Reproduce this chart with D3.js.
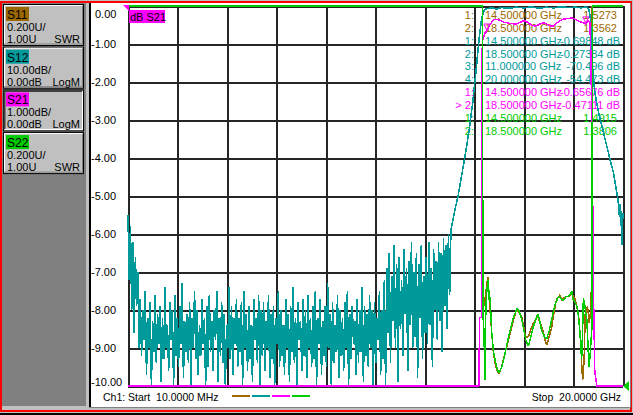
<!DOCTYPE html>
<html>
<head>
<meta charset="utf-8">
<script src="https://cdn.jsdelivr.net/npm/d3@7"></script>
<style>
	body { margin: 0; background: #fff; }
	svg { display: block; }
	text { font-family: "Liberation Sans", Arial, sans-serif; font-size: 11px; white-space: pre; }
</style>
</head>
<body>
<svg id="vna" width="633" height="415"></svg>
<script>
// ---- channel buttons on the left ----
var channelNames = ['S11', 'S12', 'S21', 'S22'];
var channelScales = ['0.200U/', '10.00dB/', '1.000dB/', '0.200U/'];
var channelRefs = ['1.00U', '0.00dB', '0.00dB', '1.00U'];
var channelFormats = ['SWR', 'LogM', 'LogM', 'SWR'];
var activeChannel = 'S21';

// ---- axes ----
var yTickValues = [0, -1, -2, -3, -4, -5, -6, -7, -8, -9, -10];
var yTickLabels = ['0.00', '-1.00', '-2.00', '-3.00', '-4.00', '-5.00', '-6.00', '-7.00', '-8.00', '-9.00', '-10.00'];
var sweepStartGHz = 0.01;
var sweepStopGHz = 20;
var startLabel = 'Ch1: Start  10.0000 MHz';
var stopLabel = 'Stop  20.0000 GHz';

// ---- marker table (top right) ----
var markerChannels = ['S11', 'S11', 'S12', 'S12', 'S12', 'S12', 'S21', 'S21', 'S22', 'S22'];
var markerIds = ['1:', '2:', '1:', '2:', '3:', '4:', '1:', '> 2:', '1:', '2:'];
var markerFreqs = ['14.500000 GHz', '18.500000 GHz', '14.500000 GHz', '18.500000 GHz', '11.000000 GHz',
	'20.000000 GHz', '14.500000 GHz', '18.500000 GHz', '14.500000 GHz', '18.500000 GHz'];
var markerValues = ['1.5273', '1.3562', '-0.69848 dB', '-0.27384 dB', '-70.496 dB', '-54.473 dB',
	'-0.65676 dB', '-0.47111 dB', '1.4915', '1.3806'];
var s21MarkerFreqs = [14.5, 18.5];
var s21MarkerDb = [-0.65676, -0.47111];

// ---- S12 (dB, 10 dB/div): noise floor read as sweep points from 10 MHz to 13 GHz ----
var s12NoiseStopGHz = 13.0;
var s12Noise = [
	-55, -72, -58, -80, -62, -86, -66, -79, -70, -90,
	-77, -92, -80, -88, -75, -97, -82, -90, -78, -100, -83, -91, -76, -94, -81, -89, -79, -99, -82, -93,
	-74, -90, -84, -96, -78, -88, -80, -100, -76, -92, -82, -95, -79, -89, -73, -98, -83, -91, -81, -94,
	-78, -100, -82, -90, -75, -93, -80, -97, -84, -92, -77, -89, -82, -100, -79, -95, -76, -91, -83, -96,
	-80, -88, -75, -99, -82, -92, -78, -94, -81, -100, -84, -90, -74, -93, -79, -97, -82, -89, -77, -95,
	-82, -91, -78, -100, -75, -90, -81, -96, -79, -93, -84, -99, -77, -88, -82, -94, -76, -100, -80, -92,
	-78, -96, -83, -90, -76, -98, -81, -93, -79, -100, -82, -89, -75, -95, -80, -92, -84, -97, -77, -90,
	-81, -99, -79, -91, -74, -94, -82, -100, -78, -88, -83, -96, -77, -92, -80, -98, -76, -90, -82, -95,
	-79, -93, -75, -100, -82, -89, -77, -97, -83, -92, -79, -95, -73, -90, -81, -100, -78, -94, -84, -91,
	-76, -98, -80, -92, -82, -96, -78, -90, -75, -100, -81, -93, -79, -89, -83, -97, -77, -94, -80, -91,
	-74, -99, -79, -92, -81, -95, -76, -90, -80, -100, -78, -94, -82, -88, -75, -97, -80, -93, -72, -100,
	-69, -86, -65, -94, -71, -83, -63, -90, -68, -99, -66, -85, -72, -92, -64, -81, -69, -96, -67, -84,
	-62, -90, -70, -87, -65, -98, -68, -82, -63, -93, -71, -86, -66, -89, -62, -84, -69, -95, -64, -80,
	-67, -88, -62, -83, -65, -91, -61, -79, -63, -85, -60, -76
];
// S12 filter skirts and passband [GHz, dB]
var s12Band = [
	[13.05, -59], [13.2, -54], [13.34, -50], [13.5, -44], [13.66, -38], [13.8, -32], [13.94, -25],
	[14.08, -16], [14.2, -8], [14.3, -3], [14.4, -1.0], [14.5, -0.7], [14.7, -0.5], [14.9, -0.8],
	[15.1, -0.4], [15.4, -0.6], [15.7, -0.3], [16.0, -0.5], [16.3, -0.2], [16.6, -0.6], [16.9, -0.3],
	[17.2, -0.5], [17.5, -0.2], [17.8, -0.4], [18.1, -0.3], [18.3, -0.5], [18.5, -0.27], [18.62, -0.8],
	[18.68, -3], [18.72, -9], [18.78, -17], [18.85, -22], [18.95, -26], [19.05, -29], [19.2, -33],
	[19.35, -37], [19.5, -41], [19.62, -44], [19.72, -48], [19.8, -51], [19.85, -55], [19.88, -52],
	[19.9, -58], [19.93, -54], [19.96, -63], [19.98, -57], [20.0, -54.5]
];

// ---- S21 (dB, 1 dB/div) [GHz, dB] ----
var s21Trace = [
	[0.01, -10.5], [14.19, -10.5], [14.2, -8.2], [14.28, -8.2], [14.29, -1.5], [14.33, -0.9],
	[14.43, -0.71], [14.5, -0.66], [14.6, -0.52], [14.7, -0.42], [14.8, -0.36], [14.9, -0.35],
	[15.0, -0.37], [15.1, -0.4], [15.2, -0.43], [15.3, -0.44], [15.45, -0.46], [15.6, -0.47],
	[15.71, -0.47], [15.85, -0.43], [15.95, -0.4], [16.04, -0.39], [16.15, -0.43], [16.3, -0.5],
	[16.45, -0.53], [16.6, -0.49], [16.77, -0.44], [16.9, -0.47], [17.05, -0.52], [17.18, -0.53],
	[17.3, -0.46], [17.45, -0.39], [17.58, -0.35], [17.75, -0.33], [17.9, -0.32], [17.98, -0.32],
	[18.1, -0.36], [18.25, -0.41], [18.39, -0.44], [18.5, -0.47], [18.59, -0.39], [18.66, -0.42],
	[18.7, -1.2], [18.76, -4], [18.82, -8], [18.86, -9.6], [18.94, -10.5], [20.0, -10.5]
];

// ---- S11 (SWR, 0.2 U/div) [GHz, SWR] ----
var s11Trace = [
	[0.01, 4], [14.32, 4], [14.33, 1.35], [14.36, 1.5], [14.4, 1.42], [14.45, 1.48], [14.5, 1.53],
	[14.54, 1.575], [14.58, 1.5], [14.63, 1.4], [14.7, 1.28], [14.77, 1.17], [14.85, 1.11], [14.93, 1.075],
	[15.0, 1.067], [15.1, 1.1], [15.23, 1.17], [15.37, 1.24], [15.51, 1.31], [15.6, 1.36], [15.7, 1.4],
	[15.8, 1.39], [15.91, 1.365], [15.98, 1.32], [16.04, 1.27], [16.12, 1.255], [16.18, 1.26], [16.28, 1.3],
	[16.38, 1.33], [16.47, 1.35], [16.55, 1.365], [16.67, 1.33], [16.79, 1.28], [16.86, 1.24], [16.92, 1.216],
	[17.0, 1.25], [17.12, 1.31], [17.22, 1.39], [17.32, 1.46], [17.4, 1.47], [17.46, 1.48], [17.53, 1.45],
	[17.59, 1.46], [17.68, 1.47], [17.79, 1.47], [17.87, 1.48], [17.93, 1.49], [18.0, 1.47], [18.06, 1.46],
	[18.13, 1.42], [18.2, 1.38], [18.25, 1.3], [18.29, 1.24], [18.33, 1.12], [18.37, 1.03], [18.4, 1.08],
	[18.43, 1.14], [18.46, 1.3], [18.48, 1.4], [18.5, 1.36], [18.56, 1.42], [18.6, 1.38], [18.64, 1.33],
	[18.68, 1.38], [18.72, 1.5], [18.73, 1.56], [18.75, 4], [20.0, 4]
];

// ---- S22 (SWR, 0.2 U/div) [GHz, SWR] ----
var s22Trace = [
	[0.01, 4], [14.33, 4], [14.34, 1.38], [14.38, 1.3], [14.43, 1.03], [14.46, 1.4], [14.5, 1.5],
	[14.56, 1.56], [14.6, 1.45], [14.63, 1.47], [14.7, 1.28], [14.77, 1.18], [14.83, 1.14], [14.9, 1.1],
	[14.97, 1.07], [15.03, 1.08], [15.1, 1.1], [15.2, 1.15], [15.3, 1.21], [15.4, 1.27], [15.51, 1.33],
	[15.6, 1.37], [15.73, 1.41], [15.82, 1.39], [15.91, 1.35], [16.0, 1.29], [16.08, 1.24], [16.18, 1.21],
	[16.28, 1.26], [16.38, 1.31], [16.48, 1.35], [16.56, 1.38], [16.64, 1.34], [16.72, 1.29], [16.82, 1.26],
	[16.92, 1.25], [17.02, 1.29], [17.12, 1.35], [17.2, 1.4], [17.26, 1.43], [17.39, 1.47], [17.5, 1.46],
	[17.59, 1.45], [17.7, 1.47], [17.79, 1.47], [17.86, 1.48], [17.93, 1.5], [17.97, 1.46], [18.02, 1.45],
	[18.1, 1.43], [18.16, 1.41], [18.22, 1.34], [18.26, 1.28], [18.3, 1.2], [18.33, 1.14], [18.37, 1.3],
	[18.4, 1.46], [18.45, 1.43], [18.5, 1.38], [18.54, 1.35], [18.59, 1.2], [18.63, 1.1], [18.67, 1.16],
	[18.7, 1.22], [18.74, 1.3], [18.77, 4], [20.0, 4]
];

var traceColors = { S11: '#9c6800', S12: '#009a9a', S21: '#ff00ff', S22: '#00cc00' };

var svg = d3.select('#vna');

// window chrome
svg.append('rect').attr('width', 633).attr('height', 415).attr('fill', '#c0c0c0');
svg.append('rect').attr('x', 1).attr('y', 2).attr('width', 630).attr('height', 409)
	.attr('fill', 'none').attr('stroke', '#ff0000').attr('stroke-width', 2);
svg.append('rect').attr('x', 0).attr('y', 413).attr('width', 633).attr('height', 2).attr('fill', '#000');
svg.append('rect').attr('x', 2).attr('y', 3).attr('width', 84).attr('height', 403).attr('fill', '#808080');
svg.append('rect').attr('x', 89).attr('y', 3).attr('width', 541).attr('height', 404).attr('fill', '#fff');
svg.append('rect').attr('x', 89).attr('y', 3).attr('width', 2).attr('height', 404).attr('fill', '#000');
svg.append('line').attr('x1', 89).attr('x2', 630).attr('y1', 407.5).attr('y2', 407.5).attr('stroke', '#808080');
svg.append('line').attr('x1', 630.5).attr('x2', 630.5).attr('y1', 3).attr('y2', 408).attr('stroke', '#808080');

// channel buttons
var buttons = svg.selectAll('g.button').data(channelNames).enter().append('g')
	.attr('class', 'button')
	.attr('transform', function(d, i) { return 'translate(3,' + (4 + i * 42.7) + ')'; });

buttons.append('rect').attr('width', 80).attr('height', 41).attr('fill', '#c0c0c0')
	.attr('stroke', '#000').attr('stroke-width', 1).attr('x', 0.5).attr('y', 0.5);
buttons.append('path')
	.attr('d', 'M1.5,40 V1.5 H80')
	.attr('fill', 'none').attr('stroke-width', function(d) { return d == activeChannel ? 2 : 1; })
	.attr('stroke', function(d) { return d == activeChannel ? '#404040' : '#fff'; });
buttons.append('path')
	.attr('d', 'M1.5,40 H79.5 V1.5')
	.attr('fill', 'none')
	.attr('stroke', function(d) { return d == activeChannel ? '#fff' : '#808080'; });
buttons.append('rect').attr('x', 3).attr('y', 3).attr('width', 23).attr('height', 14)
	.attr('fill', function(d) { return traceColors[d]; });
buttons.append('text').attr('x', 4).attr('y', 15).style('font-size', '12px').text(function(d) { return d; });
buttons.append('text').attr('x', 4).attr('y', 27).text(function(d, i) { return channelScales[i]; });
buttons.append('text').attr('x', 4).attr('y', 39).text(function(d, i) { return channelRefs[i]; });
buttons.append('text').attr('x', 77).attr('y', 39).attr('text-anchor', 'end')
	.text(function(d, i) { return channelFormats[i]; });

// scales
var x = d3.scaleLinear().domain([sweepStartGHz, sweepStopGHz]).range([128, 623]);
var xDiv = d3.scaleLinear().domain([0, 10]).range([128, 623]);
var yDb21 = d3.scaleLinear().domain([-10, 0]).range([386, 6]).clamp(true);
var yDb12 = d3.scaleLinear().domain([-100, 0]).range([386, 6]).clamp(true);
var ySwr = d3.scaleLinear().domain([1, 3]).range([386, 6]).clamp(true);

// grid
var gridY = svg.append('g').attr('class', 'grid').attr('transform', 'translate(128,0)')
	.call(d3.axisLeft(yDb21).tickValues(yTickValues).tickSize(-495).tickFormat(''));
var gridX = svg.append('g').attr('class', 'grid').attr('transform', 'translate(0,386)')
	.call(d3.axisBottom(xDiv).ticks(10).tickSize(-380).tickFormat(''));
svg.selectAll('.grid .domain').remove();
svg.selectAll('.grid line').attr('stroke', '#262626').attr('stroke-width', 2)
	.attr('shape-rendering', 'crispEdges');

// y labels, clamped inside the panel like the instrument does
svg.selectAll('text.ylab').data(yTickValues).enter().append('text')
	.attr('class', 'ylab')
	.attr('x', function(d) { return d == 0 ? 95 : 91; })
	.attr('y', function(d) { return Math.max(14, Math.min(382, yDb21(d))) + 4; })
	.text(function(d, i) { return yTickLabels[i]; });

// bottom sweep labels
svg.append('text').attr('x', 103).attr('y', 401).style('font-size', '10.5px').text(startLabel);
svg.append('text').attr('x', 621).attr('y', 401).attr('text-anchor', 'end').style('font-size', '10.5px').text(stopLabel);
svg.selectAll('rect.legend').data(channelNames).enter().append('rect')
	.attr('class', 'legend')
	.attr('x', function(d, i) { return 232 + i * 20; })
	.attr('y', 395).attr('width', 18).attr('height', 2)
	.attr('fill', function(d) { return traceColors[d]; });

// marker table
var rows = svg.selectAll('g.mrow').data(markerIds).enter().append('g')
	.attr('class', 'mrow')
	.attr('transform', function(d, i) { return 'translate(0,' + (19 + i * 12.85) + ')'; })
	.attr('fill', function(d, i) { return traceColors[markerChannels[i]]; })
	.style('font-size', '10.5px');
rows.append('text').attr('x', 474).attr('text-anchor', 'end').text(function(d) { return d; });
rows.append('text').attr('x', 485).text(function(d, i) { return markerFreqs[i]; });
rows.append('text')
	.attr('x', function(d, i) { return /dB/.test(markerValues[i]) ? 620 : 617; })
	.attr('text-anchor', 'end')
	.text(function(d, i) { return markerValues[i]; });

// traces (drawn aliased, like the instrument screen)
var s12Step = d3.scaleLinear().domain([0, s12Noise.length - 1]).range([sweepStartGHz, s12NoiseStopGHz]);
var s12Trace = s12Noise.map(function(v, i) { return [s12Step(i), v]; }).concat(s12Band);

var traces = [
	{ name: 'S11', data: s11Trace, y: ySwr, w: 1.5 },
	{ name: 'S12', data: s12Trace, y: yDb12, w: 1.6 },
	{ name: 'S21', data: s21Trace, y: yDb21, w: 1.5 },
	{ name: 'S22', data: s22Trace, y: ySwr, w: 1.5 }
];
traces.forEach(function(t) {
	var line = d3.line()
		.x(function(d) { return x(d[0]); })
		.y(function(d) { return t.y(d[1]); });
	svg.append('path')
		.attr('class', 'trace ' + t.name)
		.attr('d', line(t.data))
		.attr('fill', 'none')
		.attr('stroke', traceColors[t.name])
		.attr('stroke-width', t.w)
		.attr('stroke-linejoin', 'bevel')
		.attr('shape-rendering', 'crispEdges');
});

// S21 marker triangles
svg.selectAll('path.mk').data(s21MarkerFreqs).enter().append('path')
	.attr('class', 'mk')
	.attr('d', function(d, i) {
		var px = x(d), py = yDb21(s21MarkerDb[i]);
		return 'M' + (px - 3) + ',' + (py - 7) + 'H' + (px + 3) + 'L' + px + ',' + (py - 1) + 'Z';
	})
	.attr('fill', 'none').attr('stroke', traceColors.S21);

// reference tags
svg.append('rect').attr('x', 129).attr('y', 10).attr('width', 36).attr('height', 13).attr('fill', traceColors.S21);
svg.append('text').attr('x', 130).attr('y', 21).text('dB S21');
svg.append('path').attr('d', 'M123,5 H129 V11 Z').attr('fill', traceColors.S21);
svg.append('path').attr('d', 'M623,386 L629,381 V391 Z').attr('fill', traceColors.S22);
</script>
</body>
</html>
